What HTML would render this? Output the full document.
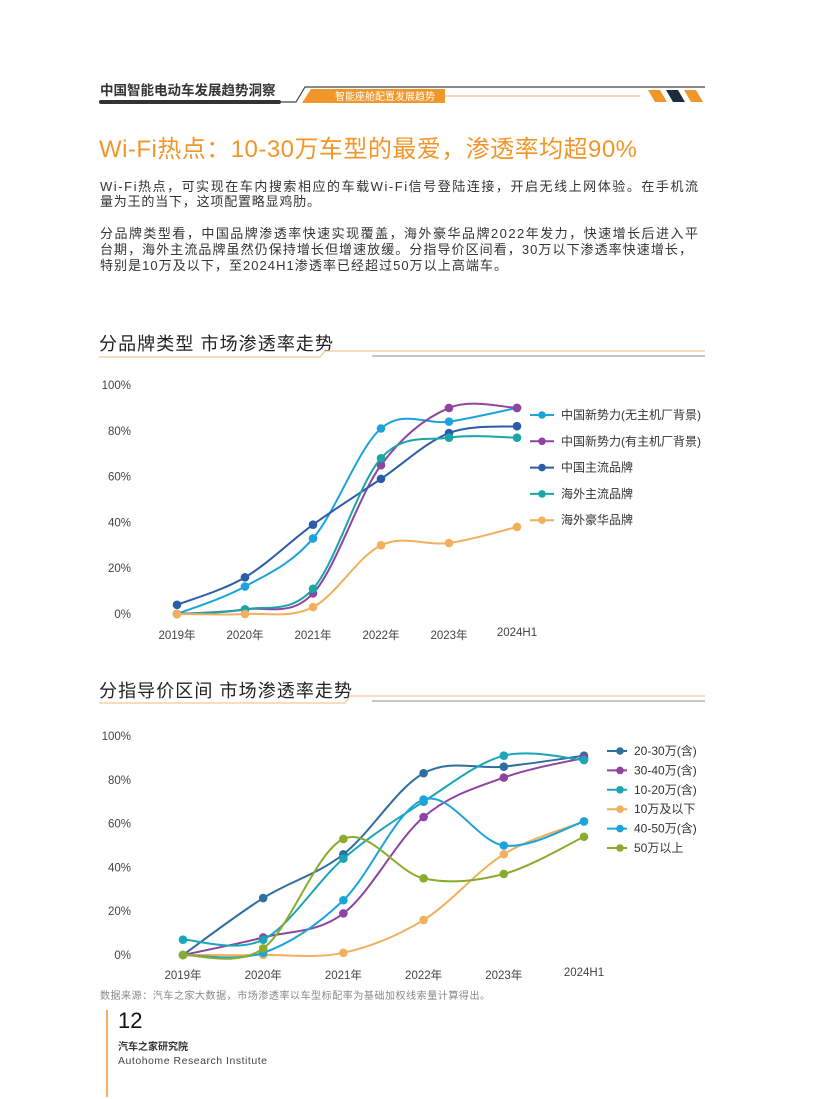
<!DOCTYPE html>
<html><head><meta charset="utf-8">
<style>
body{margin:0;background:#fff;}
svg{display:block;font-family:"Liberation Sans","Noto Sans CJK SC",sans-serif;}
</style></head>
<body>
<svg id="pg" width="816" height="1099" viewBox="0 0 816 1099" xmlns="http://www.w3.org/2000/svg">
<rect width="816" height="1099" fill="#fff"/>
<g>
<text x="100" y="95" font-size="13.5" font-weight="bold" fill="#333">中国智能电动车发展趋势洞察</text>
<rect x="99" y="100" width="182" height="4" rx="2" fill="#333"/>
<path d="M281 102 L296 102 L305 87 L705 87" stroke="#444" stroke-width="1.2" fill="none"/>
<polygon points="311,89 445,89 445,103 302,103" fill="#f0962a"/>
<text x="335" y="100" font-size="10" fill="#fff">智能座舱配置发展趋势</text>
<line x1="445" y1="96" x2="640" y2="96" stroke="#f0b070" stroke-width="1"/>
<polygon points="648,90 660,90 667,102 655,102" fill="#f0962a"/>
<polygon points="666,90 678,90 685,102 673,102" fill="#1f2a3a"/>
<polygon points="684,90 696,90 703,102 691,102" fill="#f0962a"/>
</g>
<text x="99" y="157" font-size="24" fill="#f0962a" textLength="538" lengthAdjust="spacing">Wi-Fi热点：10-30万车型的最爱，渗透率均超90%</text>
<g font-size="13" fill="#333">
<text x="100" y="191" textLength="598" lengthAdjust="spacing">Wi-Fi热点，可实现在车内搜索相应的车载Wi-Fi信号登陆连接，开启无线上网体验。在手机流</text>
<text x="100" y="206" textLength="220" lengthAdjust="spacing">量为王的当下，这项配置略显鸡肋。</text>
<text x="100" y="238" textLength="598" lengthAdjust="spacing">分品牌类型看，中国品牌渗透率快速实现覆盖，海外豪华品牌2022年发力，快速增长后进入平</text>
<text x="100" y="254" textLength="592" lengthAdjust="spacing">台期，海外主流品牌虽然仍保持增长但增速放缓。分指导价区间看，30万以下渗透率快速增长，</text>
<text x="100" y="270" textLength="407" lengthAdjust="spacing">特别是10万及以下，至2024H1渗透率已经超过50万以上高端车。</text>
</g>
<g>
<text x="99" y="350" font-size="18" fill="#222" textLength="234" lengthAdjust="spacing">分品牌类型  市场渗透率走势</text>
<path d="M99 357 L320 357 L325 351 L705 351" stroke="#f5c89a" stroke-width="1.3" fill="none"/>
<line x1="372" y1="356" x2="705" y2="356" stroke="#666" stroke-width="0.8"/>
</g>
<g>
<text x="99" y="697" font-size="18" fill="#222" textLength="253" lengthAdjust="spacing">分指导价区间  市场渗透率走势</text>
<path d="M99 703 L345 703 L350 696 L705 696" stroke="#f5c89a" stroke-width="1.3" fill="none"/>
<line x1="372" y1="701" x2="705" y2="701" stroke="#666" stroke-width="0.8"/>
</g>
<g id="c1"></g>
<g id="c2"></g>
<text x="100" y="999" font-size="10" fill="#888" textLength="390" lengthAdjust="spacing">数据来源：汽车之家大数据，市场渗透率以车型标配率为基础加权线索量计算得出。</text>
<line x1="107" y1="1010" x2="107" y2="1097" stroke="#f0b070" stroke-width="2"/>
<text x="118" y="1028" font-size="22" fill="#111">12</text>
<text x="118" y="1050" font-size="10" font-weight="bold" fill="#333">汽车之家研究院</text>
<text x="118" y="1064" font-size="10.5" fill="#444" textLength="149" lengthAdjust="spacing">Autohome Research Institute</text>
</svg>
<script>
const NS="http://www.w3.org/2000/svg";
const categories1=["2019年","2020年","2021年","2022年","2023年","2024H1"];
const names1=["中国新势力(无主机厂背景)","中国新势力(有主机厂背景)","中国主流品牌","海外主流品牌","海外豪华品牌"];
const s1a=[0,12,33,81,84,90];
const s1b=[0,2,9,65,90,90];
const s1c=[4,16,39,59,79,82];
const s1d=[0,2,11,68,77,77];
const s1e=[0,0,3,30,31,38];
const colors1=["#1ba3dc","#8e44a0","#2b5ca8","#1aa5a8","#f2b05c"];
const yTicks=[0,20,40,60,80,100];

const categories2=["2019年","2020年","2021年","2022年","2023年","2024H1"];
const names2=["20-30万(含)","30-40万(含)","10-20万(含)","10万及以下","40-50万(含)","50万以上"];
const s2a=[0,26,46,83,86,91];
const s2b=[0,8,19,63,81,90];
const s2c=[7,7,44,70,91,89];
const s2d=[0,0,1,16,46,61];
const s2e=[0,1,25,71,50,61];
const s2f=[0,3,53,35,37,54];
const colors2=["#2e6fa0","#8e44a0","#1aa5b8","#f2b05c","#1ba3dc","#8aab2c"];

function el(tag,attrs,parent){const e=document.createElementNS(NS,tag);for(const k in attrs)e.setAttribute(k,attrs[k]);parent.appendChild(e);return e;}
function path(pts){let d="M"+pts[0][0]+" "+pts[0][1];for(let i=0;i<pts.length-1;i++){const p0=pts[i-1]||pts[i],p1=pts[i],p2=pts[i+1],p3=pts[i+2]||p2;const t=6;d+=" C"+(p1[0]+(p2[0]-p0[0])/t)+" "+(p1[1]+(p2[1]-p0[1])/t)+" "+(p2[0]-(p3[0]-p1[0])/t)+" "+(p2[1]-(p3[1]-p1[1])/t)+" "+p2[0]+" "+p2[1];}return d;}
function chart(g,cfg){
  const X=i=>cfg.x0+i*cfg.dx, Y=v=>cfg.y0-v*cfg.ky;
  yTicks.forEach(t=>{const tx=el("text",{x:cfg.yLabX,y:Y(t)+4,"font-size":"11.5",fill:"#444","text-anchor":"end"},g);tx.textContent=t+"%";
    
    });
  cfg.cats.forEach((c,i)=>{const tx=el("text",{x:X(i),y:cfg.xLabY+(i===5?-3:0),"font-size":"11.5",fill:"#444","text-anchor":"middle"},g);tx.textContent=c;
    
    });
  cfg.series.forEach((s,k)=>{const pts=s.map((v,i)=>[X(i),Y(v)]);
    const p=el("path",{d:path(pts),fill:"none",stroke:cfg.colors[k],"stroke-width":"2"},g);
    
    
    pts.forEach(q=>{const c=el("circle",{cx:q[0],cy:q[1],r:"4.3",fill:cfg.colors[k]},g);
      
      });
    const ly=cfg.legY+k*cfg.legDy;
    const lg=el("g",{},g);
    
    
    el("line",{x1:cfg.legX,y1:ly,x2:cfg.legX+cfg.legW,y2:ly,stroke:cfg.colors[k],"stroke-width":"2"},lg);
    el("circle",{cx:cfg.legX+cfg.legW/2+(cfg.legDot||0),cy:ly,r:"3.8",fill:cfg.colors[k]},lg);
    const t=el("text",{x:cfg.legX+cfg.legW+7,y:ly+4,"font-size":"12",fill:"#333"},lg);t.textContent=cfg.names[k];});
}
chart(document.getElementById("c1"),{x0:177,dx:68,y0:614,ky:2.29,yLabX:131,xLabY:639,cats:categories1,series:[s1a,s1b,s1c,s1d,s1e],colors:colors1,names:names1,legX:530,legW:24,legY:415,legDy:26.3});
chart(document.getElementById("c2"),{x0:183,dx:80.2,y0:955,ky:2.19,yLabX:131,xLabY:979,cats:categories2,series:[s2a,s2b,s2c,s2d,s2e,s2f],colors:colors2,names:names2,legX:607,legW:20,legY:751,legDy:19.4,legDot:3});
</script>
</body></html>
